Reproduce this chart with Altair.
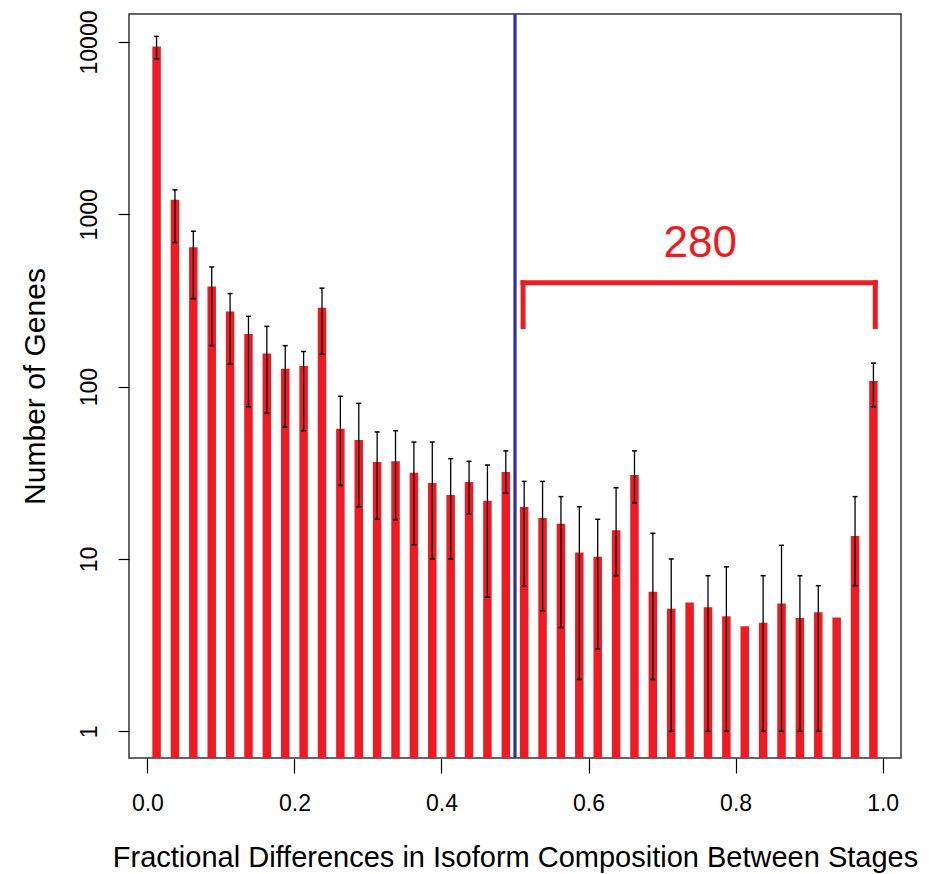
import altair as alt
import pandas as pd

# ---- data ----
bin_mid = [0.0125, 0.0375, 0.0625, 0.0875, 0.1125, 0.1375, 0.1625, 0.1875, 0.2125, 0.2375,
           0.2625, 0.2875, 0.3125, 0.3375, 0.3625, 0.3875, 0.4125, 0.4375, 0.4625, 0.4875,
           0.5125, 0.5375, 0.5625, 0.5875, 0.6125, 0.6375, 0.6625, 0.6875, 0.7125, 0.7375,
           0.7625, 0.7875, 0.8125, 0.8375, 0.8625, 0.8875, 0.9125, 0.9375, 0.9625, 0.9875]
counts = [9430, 1214, 645, 381, 273, 202, 156, 127, 132, 287,
          57, 49, 36.5, 36.9, 31.7, 27.6, 23.5, 28, 21.8, 32,
          20, 17.3, 16, 10.9, 10.3, 14.7, 30.7, 6.45, 5.14, 5.6,
          5.24, 4.66, 4.07, 4.26, 5.52, 4.54, 4.9, 4.58, 13.6, 108]
err_hi = [10780, 1387, 798, 495, 347, 256, 224, 173, 160, 373,
          88, 80, 54.6, 55.5, 47.7, 47.7, 38.2, 36.9, 35.1, 42.4,
          28.2, 28.2, 23, 20.1, 17, 25.9, 42.4, 14.1, 10, None,
          8, 9, None, 8, 12, 8, 7, None, 23, 137]
err_lo = [8000, 686, 324, 173, 135, 76.5, 70, 58.3, 55.5, 154,
          26.7, 20.1, 17, 16.9, 12.1, 10, 10, 18.2, 6.0, 24.1,
          7.0, 5.0, 4.0, 2.0, 3.0, 8.0, 21.1, 2.0, 1, None,
          1, 1, None, 1, 1, 1, 1, None, 7, 76.5]

x_ticks = [0.0, 0.2, 0.4, 0.6, 0.8, 1.0]
y_ticks = [1, 10, 100, 1000, 10000]
x_domain = [-0.025, 1.025]
y_domain = [0.7, 14540]

cutoff = [0.5]
bracket_x = [0.511, 0.99]
bracket_y = [401, 223]
label_text = ["280"]
label_pos = [0.752, 675]

RED = "#ED1C24"
BLUE = "#2E3192"
FONT = "Liberation Sans"

df = pd.DataFrame({"x": bin_mid, "n": counts, "hi": err_hi, "lo": err_lo})
df["base"] = y_domain[0]
df_err = df.dropna()

xs = alt.Scale(domain=x_domain, nice=False, zero=False)
ys = alt.Scale(type="log", domain=y_domain, nice=False)

x_axis = alt.Axis(values=x_ticks, format=".1f", title="Fractional Differences in Isoform Composition Between Stages",
                  grid=False, domain=False, tickSize=15, tickColor="black", tickWidth=1.2,
                  labelFontSize=23, labelFont=FONT, labelColor="black", labelPadding=19.5,
                  titleFontSize=29, titleFont=FONT, titleFontWeight="normal", titleColor="black",
                  titleX=386, titleY=108, titleAlign="center", titleBaseline="alphabetic")
y_axis = alt.Axis(values=y_ticks, format="d", title="Number of Genes",
                  grid=False, domain=False, tickSize=11, tickColor="black", tickWidth=1.2,
                  labelFontSize=23, labelFont=FONT, labelColor="black", labelPadding=17,
                  labelAngle=270, labelAlign="center", labelBaseline="bottom",
                  titleFontSize=30, titleFont=FONT, titleFontWeight="normal", titleColor="black",
                  titleAngle=270, titleX=-94, titleY=372, titleAlign="center", titleBaseline="middle")

bars = alt.Chart(df).mark_rule(color=RED, strokeWidth=8.5, strokeCap="butt").encode(
    x=alt.X("x:Q", scale=xs, axis=x_axis),
    y=alt.Y("n:Q", scale=ys, axis=y_axis),
    y2="base:Q",
)
bar_tops = alt.Chart(df).mark_point(filled=True, color=RED, opacity=1, size=56, shape="circle").encode(
    x=alt.X("x:Q", scale=xs), y=alt.Y("n:Q", scale=ys))

err_rule = alt.Chart(df_err).mark_rule(color="black", strokeWidth=1.3).encode(
    x=alt.X("x:Q", scale=xs), y=alt.Y("hi:Q", scale=ys), y2="lo:Q")
cap_hi = alt.Chart(df_err).mark_rule(color="black", strokeWidth=1.5, xOffset=-2.5, x2Offset=2.5).encode(
    x=alt.X("x:Q", scale=xs), x2="x:Q", y=alt.Y("hi:Q", scale=ys))
cap_lo = alt.Chart(df_err).mark_rule(color="black", strokeWidth=1.5, xOffset=-2.5, x2Offset=2.5).encode(
    x=alt.X("x:Q", scale=xs), x2="x:Q", y=alt.Y("lo:Q", scale=ys))

vline = alt.Chart(pd.DataFrame({"x": cutoff})).mark_rule(color=BLUE, strokeWidth=3.2).encode(
    x=alt.X("x:Q", scale=xs))

br_h = alt.Chart(pd.DataFrame({"x": [bracket_x[0]], "x2": [bracket_x[1]], "y": [bracket_y[0]]})).mark_rule(
    color=RED, strokeWidth=5, strokeCap="square").encode(
    x=alt.X("x:Q", scale=xs), x2="x2:Q", y=alt.Y("y:Q", scale=ys))
br_v = alt.Chart(pd.DataFrame({"x": bracket_x, "y": [bracket_y[0]] * 2, "y2": [bracket_y[1]] * 2})).mark_rule(
    color=RED, strokeWidth=5, strokeCap="square").encode(
    x=alt.X("x:Q", scale=xs), y=alt.Y("y:Q", scale=ys), y2="y2:Q")

txt = alt.Chart(pd.DataFrame({"x": [label_pos[0]], "y": [label_pos[1]], "t": label_text})).mark_text(
    color=RED, font=FONT, fontSize=44, align="center", baseline="middle").encode(
    x=alt.X("x:Q", scale=xs), y=alt.Y("y:Q", scale=ys), text="t:N")

chart = alt.layer(bars, err_rule, cap_hi, cap_lo, vline, br_h, br_v, txt).properties(
    width=772, height=744,
    autosize=alt.AutoSizeParams(type="none"),
    padding={"left": 129, "top": 14, "right": 34, "bottom": 116},
    background="white",
).configure_view(stroke="#333333", strokeWidth=1.5)

chart.save("out.html", embed_options={"renderer": "svg", "actions": False})
